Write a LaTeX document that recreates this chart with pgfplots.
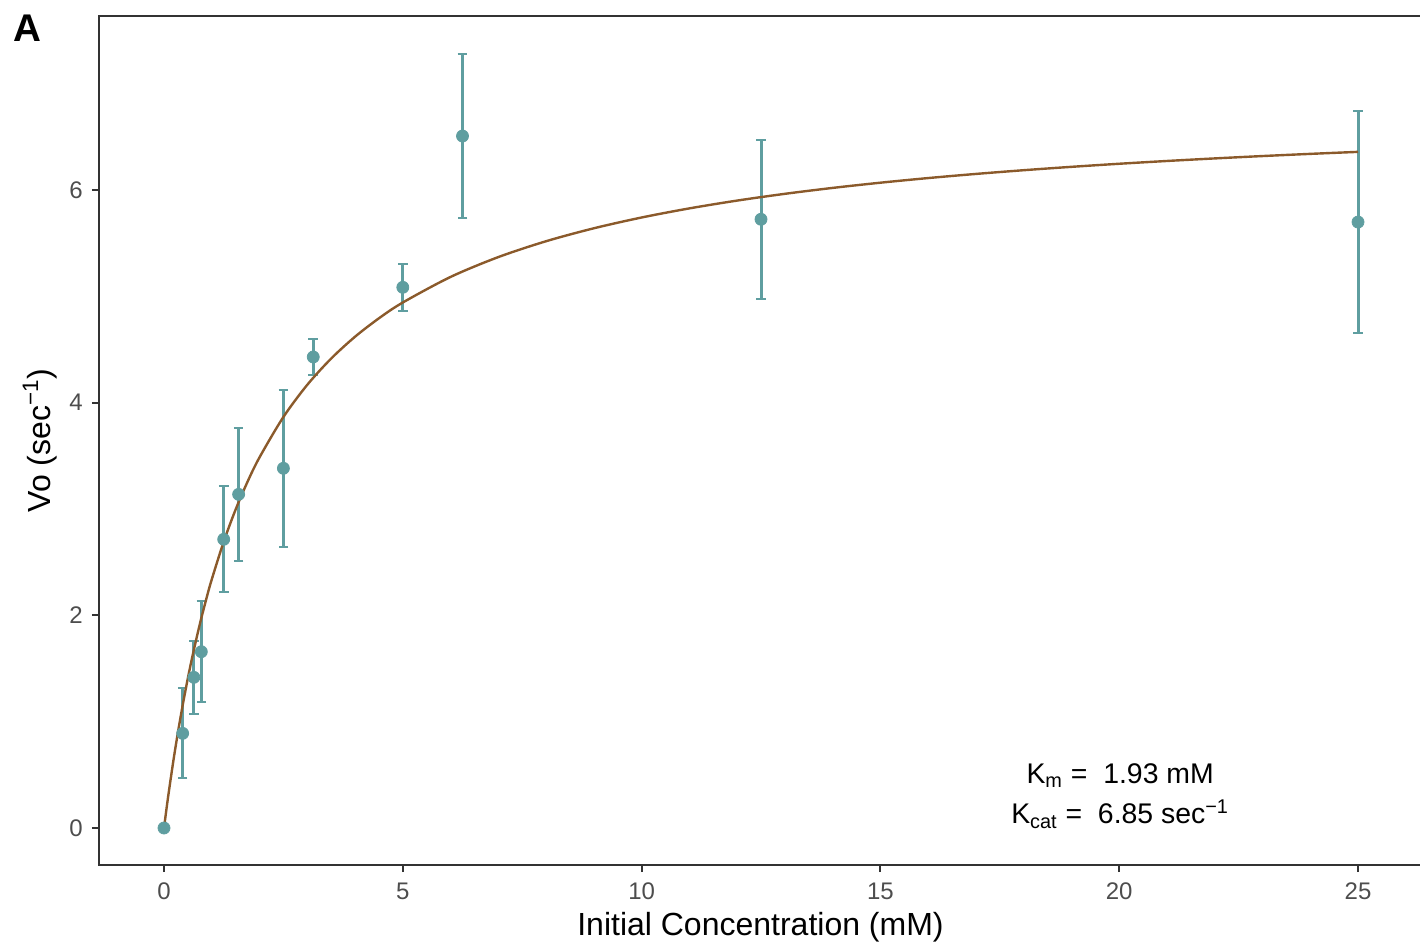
\documentclass[border=0pt]{standalone}
\usepackage{fontspec}
\setmainfont{Liberation Sans}
\usepackage{pgfplots}
\usepackage{pgfplotstable}
\pgfplotsset{compat=1.18}

\definecolor{ptcol}{HTML}{5F9EA0}
\definecolor{fitcol}{HTML}{8B5A2B}
\definecolor{framecol}{HTML}{333333}
\definecolor{tickcol}{HTML}{4D4D4D}

% measured rates: conc, mean, sd
\pgfplotstableread{
x        y      err
0        0      0
0.390625 0.890  0.423
0.625    1.417  0.343
0.78125  1.658  0.474
1.25     2.715  0.497
1.5625   3.138  0.624
2.5      3.383  0.739
3.125    4.430  0.165
5        5.085  0.220
6.25     6.508  0.768
12.5     5.725  0.748
25       5.699  1.047
}\rates

\begin{document}
\begin{tikzpicture}
\begin{axis}[
    at={(0,0)}, anchor=south west,
    scale only axis,
    width=661.5bp, height=424.5bp,
    xmin=-1.361, xmax=26.34,
    ymin=-0.348, ymax=7.637,
    xtick={0,5,10,15,20,25},
    ytick={0,2,4,6},
    tick pos=left,
    tick align=outside,
    major tick length=3.5bp,
    axis line style={framecol, line width=1bp},
    every tick/.style={framecol, line width=1bp},
    /pgf/number format/assume math mode=true,
    tick label style={font=\fontsize{12bp}{14bp}\selectfont, text=tickcol, inner sep=0pt},
    xticklabel style={anchor=north},
    yticklabel style={anchor=east},
    xticklabel shift=5.2bp,
    yticklabel shift=4.5bp,
    xlabel={Initial Concentration (mM)},
    ylabel={Vo (sec\textsuperscript{−1})},
    every axis x label/.style={at={(axis description cs:0.5,-0.0836)}, anchor=base,
        font=\fontsize{16bp}{19bp}\selectfont},
    every axis y label/.style={at={(axis description cs:-0.0446,0.5)}, rotate=90, anchor=center,
        font=\fontsize{16bp}{19bp}\selectfont},
]
\addplot[only marks, mark=*, mark size=3bp, color=ptcol,
    error bars/.cd, y dir=both, y explicit,
    error bar style={line width=1.5bp, ptcol},
    error mark options={rotate=90, mark size=2.4bp, line width=1bp, ptcol}]
    table[x=x, y=y, y error=err] {\rates};

% fitted Michaelis-Menten curve
\addplot[fitcol, line width=1.2bp, smooth, tension=0.5] coordinates {
    (0,0) (0.05,0.1730) (0.1,0.3374) (0.2,0.6432) (0.3,0.9215) (0.4,1.1760)
    (0.5,1.4095) (0.6,1.6245) (0.75,1.9170) (0.9,2.1784) (1,2.3379)
    (1.25,2.6926) (1.5,2.9956) (1.75,3.2575) (2,3.4860) (2.5,3.8657)
    (3,4.1684) (3.5,4.4153) (4,4.6206) (4.5,4.7939) (5,4.9423) (6,5.1828)
    (7,5.3695) (8,5.5187) (9,5.6404) (10,5.7418) (11,5.8275) (12,5.9009)
    (13,5.9645) (14,6.0201) (15,6.0691) (16,6.1127) (17,6.1516) (18,6.1866)
    (19,6.2183) (20,6.2472) (21,6.2734) (22,6.2975) (23,6.3197) (24,6.3402)
    (25,6.3591)
};

\node[anchor=base, font=\fontsize{14.2bp}{17bp}\selectfont]
    at (axis cs:20.02,0.423) {K\textsubscript{m} = \ 1.93 mM};
\node[anchor=base, font=\fontsize{14.2bp}{17bp}\selectfont]
    at (axis cs:20.02,0.038) {K\textsubscript{cat} = \ 6.85 sec\textsuperscript{−1}};
\end{axis}

\node[anchor=base west, inner sep=0pt, font=\fontsize{19.3bp}{22bp}\selectfont\bfseries]
    at (-43bp,411.65bp) {A};

\pgfresetboundingbox
\path (-49.5bp,-40.5bp) rectangle (660.5bp,432.5bp);
\end{tikzpicture}
\end{document}
